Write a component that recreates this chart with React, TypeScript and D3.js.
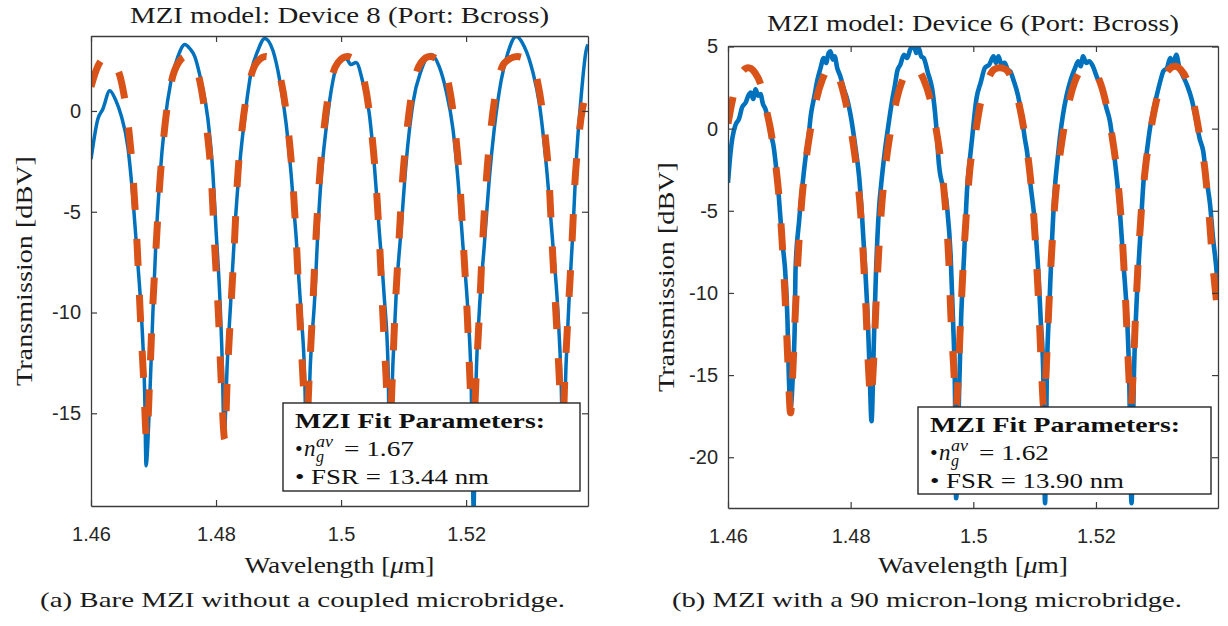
import React, { useEffect, useRef } from 'react';
import * as d3 from 'd3';

// wavelength [um] vs transmission [dBV]
const xTickValues = [1.46, 1.48, 1.5, 1.52];
const yTicksDevice8 = [-15, -10, -5, 0];
const yTicksDevice6 = [-20, -15, -10, -5, 0, 5];

const measuredDevice8: [number, number][] = [
  [1.46, -2.4], [1.4611, -0.4], [1.4619, 0.1], [1.463, 1.0], [1.464, 0.5], [1.4648, -0.2], [1.4659, -1.8],
  [1.4667, -4.3], [1.4675, -7.6], [1.4682, -10.9], [1.4686, -14.2], [1.4688, -17.6], [1.4694, -14.2],
  [1.4699, -10.0], [1.4704, -6.4], [1.471, -3.4], [1.4718, -0.6], [1.4728, 1.5], [1.4739, 2.7], [1.475, 3.3],
  [1.4758, 3.1], [1.4766, 2.7], [1.4776, 1.5], [1.4787, -0.4], [1.4795, -3.1], [1.48, -5.9], [1.4806, -9.2],
  [1.481, -12.5], [1.4813, -16.2], [1.4818, -12.5], [1.4824, -9.2], [1.483, -5.9], [1.4838, -2.6],
  [1.4846, -0.3], [1.4856, 1.9], [1.4867, 3.0], [1.4878, 3.6], [1.4891, 3.0], [1.4902, 1.5], [1.4912, -0.6],
  [1.492, -3.1], [1.4928, -6.2], [1.4936, -10.0], [1.4942, -13.4], [1.4945, -17.5], [1.4951, -12.5],
  [1.4958, -9.2], [1.4963, -5.9], [1.4968, -3.4], [1.4976, -0.9], [1.4987, 1.5], [1.4995, 2.4], [1.5008, 2.6],
  [1.5016, 2.3], [1.5024, 2.4], [1.5035, 1.4], [1.5045, -0.1], [1.5053, -2.6], [1.5061, -5.9], [1.5069, -9.2],
  [1.5075, -12.5], [1.5078, -17.0], [1.5083, -12.5], [1.5088, -9.2], [1.5096, -5.9], [1.5104, -2.6],
  [1.5115, 0.4], [1.5128, 2.0], [1.5144, 2.8], [1.5157, 2.2], [1.5168, 1.0], [1.5179, -0.9], [1.5187, -3.4],
  [1.5195, -6.7], [1.5203, -10.0], [1.5208, -13.4], [1.5212, -20.5], [1.5216, -13.4], [1.5221, -10.0],
  [1.5229, -6.7], [1.5237, -3.4], [1.5245, -0.9], [1.5256, 1.5], [1.5267, 2.9], [1.528, 3.7], [1.5293, 3.2],
  [1.5307, 1.9], [1.5317, 0.4], [1.5328, -2.6], [1.5339, -6.7], [1.5347, -10.0], [1.5352, -13.4],
  [1.5355, -17.0], [1.536, -12.5], [1.5365, -9.2], [1.5371, -5.9], [1.5376, -2.6], [1.5384, 0.7],
  [1.5392, 3.0], [1.5395, 3.3],
];

const fitDevice8: [number, number][] = [
  [1.46, 1.2], [1.4608, 2.0], [1.4616, 2.5], [1.4626, 2.7], [1.4637, 2.4], [1.4649, 1.4], [1.466, -0.8],
  [1.4668, -3.6], [1.4674, -6.8], [1.4679, -10.2], [1.4684, -13.2], [1.4689, -16.3], [1.4694, -13.2],
  [1.4698, -10.2], [1.4704, -6.8], [1.471, -3.6], [1.4718, -0.8], [1.4729, 1.5], [1.474, 2.4], [1.4752, 2.7],
  [1.4764, 2.4], [1.4774, 1.5], [1.4785, -0.8], [1.4793, -3.6], [1.4798, -6.8], [1.4804, -10.2],
  [1.4808, -13.2], [1.4814, -16.3], [1.4818, -13.2], [1.4823, -10.2], [1.4829, -6.8], [1.4834, -3.6],
  [1.4842, -0.8], [1.4854, 1.5], [1.4865, 2.4], [1.488, 2.7], [1.4893, 2.4], [1.4904, 1.5], [1.4915, -0.8],
  [1.4923, -3.6], [1.4929, -6.8], [1.4934, -10.2], [1.4939, -13.2], [1.4944, -16.3], [1.4949, -13.2],
  [1.4954, -10.2], [1.4959, -6.8], [1.4965, -3.6], [1.4973, -0.8], [1.4984, 1.5], [1.4995, 2.4], [1.501, 2.7],
  [1.5026, 2.4], [1.5037, 1.5], [1.5048, -0.8], [1.5056, -3.6], [1.5062, -6.8], [1.5067, -10.2],
  [1.5072, -13.2], [1.5077, -16.3], [1.5082, -13.2], [1.5086, -10.2], [1.5092, -6.8], [1.5098, -3.6],
  [1.5106, -0.8], [1.5117, 1.5], [1.5128, 2.4], [1.5142, 2.7], [1.516, 2.4], [1.5171, 1.5], [1.5182, -0.8],
  [1.519, -3.6], [1.5196, -6.8], [1.5202, -10.2], [1.5206, -13.2], [1.5211, -16.3], [1.5216, -13.2],
  [1.5221, -10.2], [1.5226, -6.8], [1.5232, -3.6], [1.524, -0.8], [1.5251, 1.5], [1.5262, 2.4], [1.5282, 2.7],
  [1.5302, 2.4], [1.5314, 1.5], [1.5325, -0.8], [1.5333, -3.6], [1.5338, -6.8], [1.5344, -10.2],
  [1.5349, -13.2], [1.5354, -16.3], [1.5358, -13.2], [1.5363, -10.2], [1.5369, -6.8], [1.5374, -3.6],
  [1.5382, -0.8], [1.5395, 1.1],
];

const measuredDevice6: [number, number][] = [
  [1.46, -3.3], [1.4604, -1.5], [1.4607, -0.6], [1.4612, 0.2], [1.4618, 0.6], [1.4623, 1.3], [1.4629, 1.6],
  [1.4633, 2.0], [1.4637, 2.2], [1.4641, 1.8], [1.4645, 2.4], [1.4649, 2.0], [1.4653, 2.1], [1.4657, 1.5],
  [1.4661, 1.2], [1.4665, 0.6], [1.467, -0.4], [1.4674, -1.0], [1.4678, -2.2], [1.4683, -4.2], [1.4688, -6.7],
  [1.4694, -9.1], [1.4697, -11.7], [1.4699, -14.8], [1.4702, -17.0], [1.4706, -14.8], [1.4709, -11.7],
  [1.471, -8.7], [1.4716, -5.6], [1.4721, -3.6], [1.4727, -1.6], [1.4731, -0.6], [1.4735, 0.8], [1.4741, 2.0],
  [1.4746, 3.0], [1.4751, 3.7], [1.4756, 4.3], [1.476, 4.0], [1.4764, 4.6], [1.4767, 4.7], [1.4771, 4.2],
  [1.4774, 4.4], [1.4778, 3.7], [1.4783, 3.2], [1.4789, 2.4], [1.4795, 1.7], [1.48, 0.8], [1.4808, -1.2],
  [1.4814, -3.0], [1.4819, -5.6], [1.4824, -8.7], [1.4828, -11.7], [1.4831, -14.8], [1.4834, -17.8],
  [1.4838, -12.8], [1.4841, -9.1], [1.4845, -5.6], [1.4852, -2.6], [1.4856, -1.3], [1.486, -0.2],
  [1.4868, 1.8], [1.4872, 2.6], [1.4876, 3.5], [1.4881, 3.9], [1.4887, 4.5], [1.4892, 4.3], [1.4897, 4.8],
  [1.4903, 5.1], [1.4907, 4.6], [1.4911, 4.9], [1.4915, 4.4], [1.4919, 4.3], [1.4926, 3.4], [1.4933, 2.4],
  [1.4939, 0.4], [1.4944, -2.2], [1.4957, -4.7], [1.4963, -7.7], [1.4967, -11.7], [1.497, -15.8],
  [1.4972, -22.5], [1.4977, -15.8], [1.498, -11.7], [1.4985, -7.7], [1.499, -3.6], [1.4994, -2.0],
  [1.4998, -0.6], [1.5005, 1.8], [1.5012, 2.8], [1.5019, 3.7], [1.5026, 3.9], [1.5033, 4.4], [1.5037, 4.0],
  [1.5041, 4.4], [1.5046, 3.9], [1.5051, 4.0], [1.5056, 3.6], [1.506, 3.5], [1.5066, 2.9], [1.5073, 2.0],
  [1.5078, 1.0], [1.5084, -0.6], [1.5088, -1.5], [1.5092, -3.0], [1.51, -5.6], [1.5106, -8.7],
  [1.511, -11.7], [1.5114, -14.8], [1.5117, -22.8], [1.512, -14.8], [1.5124, -10.8], [1.5128, -7.1],
  [1.5133, -3.6], [1.5137, -2.0], [1.5141, -0.6], [1.5146, 0.8], [1.5152, 2.0], [1.5159, 3.0], [1.5166, 3.7],
  [1.5171, 4.1], [1.5175, 3.8], [1.5179, 4.4], [1.5184, 4.0], [1.5189, 4.1], [1.5195, 3.8], [1.5202, 3.1],
  [1.5209, 2.6], [1.5216, 1.4], [1.5223, 0.4], [1.5231, -2.0], [1.5239, -5.0], [1.5245, -8.3],
  [1.5251, -11.7], [1.5254, -14.8], [1.5258, -22.8], [1.5262, -14.8], [1.5266, -10.8], [1.5272, -6.7],
  [1.5278, -3.0], [1.5283, -1.4], [1.5288, 0.0], [1.5293, 1.0], [1.5299, 2.0], [1.5305, 2.9], [1.531, 3.5],
  [1.5316, 3.7], [1.5321, 4.3], [1.5326, 4.0], [1.5331, 4.5], [1.5336, 3.7], [1.5342, 3.2], [1.5349, 2.6],
  [1.5356, 1.8], [1.5362, 0.8], [1.5369, -0.6], [1.5375, -1.4], [1.538, -3.0], [1.5386, -4.6],
  [1.5391, -6.7], [1.5396, -8.4], [1.5399, -9.8],
];

const fitDevice6: [number, number][] = [
  [1.46, 0.3], [1.4607, 1.7], [1.4616, 3.0], [1.4633, 3.7], [1.4644, 3.4], [1.4654, 2.6], [1.4661, 1.4],
  [1.4671, -0.4], [1.4679, -2.6], [1.4685, -5.0], [1.469, -8.0], [1.4694, -11.0], [1.4698, -14.5],
  [1.4702, -17.3], [1.4706, -14.5], [1.471, -11.0], [1.4714, -8.0], [1.4719, -5.0], [1.4725, -2.6],
  [1.4733, -0.4], [1.4743, 1.6], [1.4754, 3.0], [1.4768, 3.8], [1.4781, 3.1], [1.4792, 1.6], [1.4802, -0.4],
  [1.481, -2.6], [1.4816, -5.0], [1.4821, -8.0], [1.4825, -11.0], [1.4829, -14.5], [1.4833, -16.5],
  [1.4837, -14.5], [1.4841, -11.0], [1.4845, -8.0], [1.485, -5.0], [1.4856, -2.6], [1.4864, -0.4],
  [1.4874, 1.6], [1.4885, 3.0], [1.4895, 3.6], [1.4902, 3.8], [1.491, 3.6], [1.4919, 3.0], [1.4931, 1.6],
  [1.4941, -0.4], [1.4949, -2.6], [1.4955, -5.0], [1.496, -8.0], [1.4963, -11.0], [1.4968, -14.5],
  [1.4972, -17.0], [1.4976, -14.5], [1.498, -11.0], [1.4984, -8.0], [1.4989, -5.0], [1.4994, -2.6],
  [1.5003, -0.4], [1.5012, 1.6], [1.5024, 3.0], [1.5034, 3.6], [1.5043, 3.7], [1.5053, 3.6], [1.5063, 3.0],
  [1.5074, 1.6], [1.5084, -0.4], [1.5092, -2.6], [1.5098, -5.0], [1.5103, -8.0], [1.5107, -11.0],
  [1.5111, -14.5], [1.5115, -17.0], [1.5119, -14.5], [1.5123, -11.0], [1.5127, -8.0], [1.5132, -5.0],
  [1.5138, -2.6], [1.5146, -0.4], [1.5156, 1.6], [1.5167, 3.0], [1.5177, 3.6], [1.5185, 3.7], [1.5195, 3.6],
  [1.5205, 3.0], [1.5216, 1.6], [1.5226, -0.4], [1.5234, -2.6], [1.524, -5.0], [1.5245, -8.0],
  [1.5249, -11.0], [1.5253, -14.5], [1.5257, -17.0], [1.5261, -14.5], [1.5265, -11.0], [1.5269, -8.0],
  [1.5274, -5.0], [1.528, -2.6], [1.5288, -0.4], [1.5298, 1.6], [1.5309, 3.0], [1.5319, 3.6], [1.5329, 3.8],
  [1.5338, 3.6], [1.5348, 3.0], [1.5359, 1.6], [1.5369, -0.4], [1.5378, -2.6], [1.5384, -5.0],
  [1.539, -8.0], [1.5399, -11.3],
];

const BLUE = '#0072bd';
const ORANGE = '#d95319';
const AXIS = '#3c3c3c';
const SERIF = '"Liberation Serif", "Times New Roman", serif';
const SANS = '"Liberation Sans", Arial, sans-serif';

const panels = [
  {
    id: 'a',
    title: 'MZI model: Device 8 (Port: Bcross)',
    caption: '(a) Bare MZI without a coupled microbridge.',
    ng: '1.67',
    fsr: '13.44',
    measured: measuredDevice8,
    fit: fitDevice8,
    yTicks: yTicksDevice8,
    xDomain: [1.46, 1.5395],
    yDomain: [-19.6, 3.72],
    box: { left: 91, right: 588, top: 36, bottom: 506 },
    blueWidth: 3.5,
    titleY: 23, titleLen: 419,
    ylabelX: 32, ylabelLen: 230,
    captionX: 40, captionLen: 525,
    legend: { x: 283, y: 403, w: 297, h: 88 },
  },
  {
    id: 'b',
    title: 'MZI model: Device 6 (Port: Bcross)',
    caption: '(b) MZI with a 90 micron-long microbridge.',
    ng: '1.62',
    fsr: '13.90',
    measured: measuredDevice6,
    fit: fitDevice6,
    yTicks: yTicksDevice6,
    xDomain: [1.46, 1.5399],
    yDomain: [-23.09, 5.03],
    box: { left: 728, right: 1218, top: 46, bottom: 508 },
    blueWidth: 4.6,
    titleY: 31, titleLen: 412,
    ylabelX: 674, ylabelLen: 230,
    captionX: 672, captionLen: 510,
    legend: { x: 918, y: 407, w: 293, h: 87 },
  },
];

const App = () => {
  const svgRef = useRef<SVGSVGElement>(null);

  useEffect(() => {
    const svg = d3.select(svgRef.current);
    svg.selectAll('*').remove();
    svg.append('rect').attr('width', 1228).attr('height', 626).attr('fill', '#fff');
    const defs = svg.append('defs');

    panels.forEach(p => {
      const { left, right, top, bottom } = p.box;
      const x = d3.scaleLinear().domain(p.xDomain).range([left, right]);
      const y = d3.scaleLinear().domain(p.yDomain).range([bottom, top]);
      const g = svg.append('g');

      defs.append('clipPath').attr('id', `clip-${p.id}`)
        .append('rect')
        .attr('x', left).attr('y', top)
        .attr('width', right - left).attr('height', bottom - top);

      const line = d3.line<[number, number]>()
        .x(d => x(d[0]))
        .y(d => y(d[1]))
        .curve(d3.curveMonotoneX);

      const plot = g.append('g').attr('clip-path', `url(#clip-${p.id})`);
      plot.append('path')
        .datum(p.measured)
        .attr('d', line)
        .attr('fill', 'none')
        .attr('stroke', BLUE)
        .attr('stroke-width', p.blueWidth)
        .attr('stroke-linejoin', 'round');
      plot.append('path')
        .datum(p.fit)
        .attr('d', line)
        .attr('fill', 'none')
        .attr('stroke', ORANGE)
        .attr('stroke-width', 7)
        .attr('stroke-dasharray', '27 29');

      // axes, ticks inward on all four sides (matlab box on)
      const styleAxis = (sel: any) => {
        sel.attr('font-family', SANS).attr('font-size', 20);
        sel.select('.domain').attr('stroke', AXIS).attr('stroke-width', 1.3);
        sel.selectAll('.tick line').attr('stroke', AXIS).attr('stroke-width', 1.2);
        sel.selectAll('.tick text').attr('fill', '#262626');
      };
      const fmt = (d: any) => String(d);

      g.append('g').attr('transform', `translate(0,${bottom})`)
        .call(d3.axisBottom(x).tickValues(xTickValues).tickFormat(fmt).tickSizeInner(-6).tickSizeOuter(0).tickPadding(21))
        .call(styleAxis);
      g.append('g').attr('transform', `translate(0,${top})`)
        .call(d3.axisTop(x).tickValues(xTickValues).tickFormat(() => '').tickSizeInner(-6).tickSizeOuter(0))
        .call(styleAxis);
      g.append('g').attr('transform', `translate(${left},0)`)
        .call(d3.axisLeft(y).tickValues(p.yTicks).tickFormat(fmt).tickSizeInner(-6).tickSizeOuter(0).tickPadding(10))
        .call(styleAxis);
      g.append('g').attr('transform', `translate(${right},0)`)
        .call(d3.axisRight(y).tickValues(p.yTicks).tickFormat(() => '').tickSizeInner(-6).tickSizeOuter(0))
        .call(styleAxis);

      const cx = (left + right) / 2;
      const cy = (top + bottom) / 2;

      g.append('text')
        .attr('x', cx).attr('y', p.titleY)
        .attr('text-anchor', 'middle')
        .attr('font-family', SERIF).attr('font-size', 24).attr('fill', '#1a1a1a')
        .attr('textLength', p.titleLen).attr('lengthAdjust', 'spacingAndGlyphs')
        .text(p.title);

      g.append('text')
        .attr('transform', `translate(${p.ylabelX},${cy}) rotate(-90)`)
        .attr('text-anchor', 'middle')
        .attr('font-family', SERIF).attr('font-size', 24).attr('fill', '#1a1a1a')
        .attr('textLength', p.ylabelLen).attr('lengthAdjust', 'spacingAndGlyphs')
        .text('Transmission [dBV]');

      const xl = g.append('text')
        .attr('x', cx).attr('y', 573)
        .attr('text-anchor', 'middle')
        .attr('font-family', SERIF).attr('font-size', 24).attr('fill', '#1a1a1a')
        .attr('textLength', 190).attr('lengthAdjust', 'spacingAndGlyphs');
      xl.append('tspan').text('Wavelength [');
      xl.append('tspan').attr('font-style', 'italic').text('\u03bc');
      xl.append('tspan').text('m]');

      g.append('text')
        .attr('x', p.captionX).attr('y', 607)
        .attr('font-family', SERIF).attr('font-size', 22).attr('fill', '#1a1a1a')
        .attr('textLength', p.captionLen).attr('lengthAdjust', 'spacingAndGlyphs')
        .text(p.caption);

      // fit parameter box
      const lg = p.legend;
      g.append('rect')
        .attr('x', lg.x).attr('y', lg.y).attr('width', lg.w).attr('height', lg.h)
        .attr('fill', '#fff').attr('stroke', '#262626').attr('stroke-width', 1.4);
      const tx = lg.x + 12;
      g.append('text')
        .attr('x', tx).attr('y', lg.y + 25)
        .attr('font-family', SERIF).attr('font-size', 22).attr('font-weight', 'bold').attr('fill', '#111')
        .attr('textLength', 250).attr('lengthAdjust', 'spacingAndGlyphs')
        .text('MZI Fit Parameters:');

      const b2 = lg.y + 53;
      const t = (xx: number, yy: number, s: string, size: number, italic = false) =>
        g.append('text').attr('x', xx).attr('y', yy)
          .attr('font-family', SERIF).attr('font-size', size)
          .attr('font-style', italic ? 'italic' : 'normal')
          .attr('fill', '#111').text(s);
      t(tx, b2, '\u2022', 22);
      t(tx + 9, b2, 'n', 23, true);
      t(tx + 21, b2 - 9, 'av', 16, true).attr('textLength', 17).attr('lengthAdjust', 'spacingAndGlyphs');
      t(tx + 21, b2 + 6, 'g', 16, true);
      t(tx + 49, b2, `= ${p.ng}`, 22).attr('textLength', 70).attr('lengthAdjust', 'spacingAndGlyphs');

      t(tx, lg.y + 81, `\u2022 FSR = ${p.fsr} nm`, 22)
        .attr('textLength', 194).attr('lengthAdjust', 'spacingAndGlyphs');
    });
  }, []);

  return (
    <svg
      ref={svgRef}
      width={1228}
      height={626}
      style={{ position: 'absolute', left: 0, top: 0, display: 'block' }}
    />
  );
};

export default App;
